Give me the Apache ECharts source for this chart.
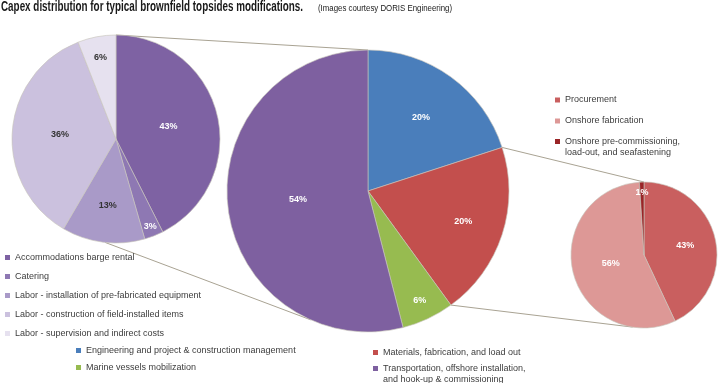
<!DOCTYPE html>
<html><head><meta charset="utf-8">
<script src="https://cdn.jsdelivr.net/npm/echarts@6/dist/echarts.min.js"></script>
<style>html,body{margin:0;padding:0;background:#fff}#c{width:720px;height:383px}</style>
</head><body><div id="c"></div>
<script>
// ---------- data ----------
const titleText = 'Capex distribution for typical brownfield topsides modifications.';
const subtitleText = '(Images courtesy DORIS Engineering)';

const laborCategories = ['Accommodations barge rental', 'Catering', 'Labor - installation of pre-fabricated equipment', 'Labor - construction of field-installed items', 'Labor - supervision and indirect costs'];
const laborValues = [43, 3, 13, 36, 6];

const capexCategories = ['Engineering and project & construction management', 'Materials, fabrication, and load out', 'Marine vessels mobilization', 'Transportation, offshore installation,\nand hook-up & commissioning'];
const capexValues = [20, 20, 6, 54];

const materialsCategories = ['Procurement', 'Onshore fabrication', 'Onshore pre-commissioning,\nload-out, and seafastening'];
const materialsValues = [43, 56, 1];

// ---------- styles / layout ----------
const laborColors = ['#7e62a3', '#8e78b3', '#a99ac8', '#cbc1de', '#e6e1ef'];
const laborLabelColors = ['#fff', '#fff', '#333', '#333', '#333'];
const capexColors = ['#4a7ebb', '#c34f4d', '#97bb50', '#7e60a0'];
const materialsColors = ['#c95f5f', '#dd9896', '#9a2527'];

const pieLeft = { center: [116, 139], r: 104, labelFrac: [0.52, 0.9, 0.64, 0.54, 0.8] };
const pieMid = { center: [368, 191], r: 141, labelFrac: [0.64, 0.71, 0.86, 0.5] };
const pieRight = { center: [644, 255], r: 73, labelFrac: [0.58, 0.47, 0.85] };

const FONT = '"Liberation Sans", Arial, sans-serif';

function fitScale(text, font, target) {
  const ctx = document.createElement('canvas').getContext('2d');
  ctx.font = font;
  return target / ctx.measureText(text).width;
}
function pt(p, deg) {
  const a = deg * Math.PI / 180;
  return [p.center[0] + p.r * Math.sin(a), p.center[1] - p.r * Math.cos(a)];
}
function connector(p1, d1, p2, d2) {
  const a = pt(p1, d1), b = pt(p2, d2);
  return { type: 'line', z: 0, silent: true,
    shape: { x1: a[0], y1: a[1], x2: b[0], y2: b[1] },
    style: { stroke: '#a9a393', lineWidth: 1 } };
}
function labelLayoutFor(p) {
  return function (params) {
    const lr = params.labelRect;
    const cx = lr.x + lr.width / 2, cy = lr.y + lr.height / 2;
    const vx = cx - p.center[0], vy = cy - p.center[1];
    const dist = Math.sqrt(vx * vx + vy * vy) || 1;
    const k = p.labelFrac[params.dataIndex] * p.r / dist - 1;
    return { dx: vx * k, dy: vy * k };
  };
}
function pieSeries(name, p, cats, vals, colors, labelColors) {
  return {
    type: 'pie', name: name, z: 5, silent: true,
    center: p.center, radius: p.r, startAngle: 90, clockwise: true,
    avoidLabelOverlap: false,
    itemStyle: { borderColor: 'rgba(200,196,186,0.9)', borderWidth: 0.7 },
    label: { show: true, position: 'inside', formatter: '{c}%',
      fontFamily: FONT, fontWeight: 'bold', fontSize: 9 },
    labelLine: { show: false },
    emphasis: { disabled: true },
    labelLayout: labelLayoutFor(p),
    data: cats.map((c, i) => ({ name: c, value: vals[i],
      itemStyle: { color: colors[i] },
      label: { color: labelColors ? labelColors[i] : '#fff' } }))
  };
}
// twoLine: prepend an empty line so the marker sits beside the first text line
function legendAt(names, left, top, gap, twoLine) {
  const lg = {
    orient: 'vertical', icon: 'rect', itemWidth: 5, itemHeight: 5,
    selectedMode: false, left: left, top: top, height: 60, itemGap: gap,
    itemStyle: { borderWidth: 0 },
    textStyle: { fontFamily: FONT, fontSize: 9, color: '#3c3c3c', lineHeight: 11 },
    data: names
  };
  if (twoLine) lg.formatter = n => '\n' + n;
  return lg;
}

const titleFont = 'bold 15px ' + FONT;
const subFont = 'normal 9px ' + FONT;

const chart = echarts.init(document.getElementById('c'), null, { renderer: 'canvas' });
chart.setOption({
  animation: false,
  backgroundColor: '#ffffff',
  legend: [
    Object.assign(legendAt(laborCategories, 0, 247, 8, false), { height: 120 }),
    legendAt([capexCategories[0], capexCategories[2]], 71, 340, 6, false),
    legendAt([capexCategories[1]], 368, 342, 6, false),
    legendAt([capexCategories[3]], 368, 347, 6, true),
    legendAt([materialsCategories[0], materialsCategories[1]], 550, 89.5, 10, false),
    legendAt([materialsCategories[2]], 550, 120, 10, true)
  ],
  graphic: [
    { type: 'text', x: 1, y: -1, z: 10, scaleX: fitScale(titleText, titleFont, 302),
      style: { text: titleText, font: titleFont, fill: '#1a1a1a', align: 'left', verticalAlign: 'top' } },
    { type: 'text', x: 318, y: 4, z: 10, scaleX: fitScale(subtitleText, subFont, 134),
      style: { text: subtitleText, font: subFont, fill: '#1a1a1a', align: 'left', verticalAlign: 'top' } },
    connector(pieLeft, 0, pieMid, 0),
    connector(pieLeft, 186, pieMid, 204),
    connector(pieMid, 72, pieRight, 0),
    connector(pieMid, 144, pieRight, 189)
  ],
  series: [
    pieSeries('labor', pieLeft, laborCategories, laborValues, laborColors, laborLabelColors),
    pieSeries('capex', pieMid, capexCategories, capexValues, capexColors, null),
    pieSeries('materials', pieRight, materialsCategories, materialsValues, materialsColors, null)
  ]
});
</script>
</body></html>
